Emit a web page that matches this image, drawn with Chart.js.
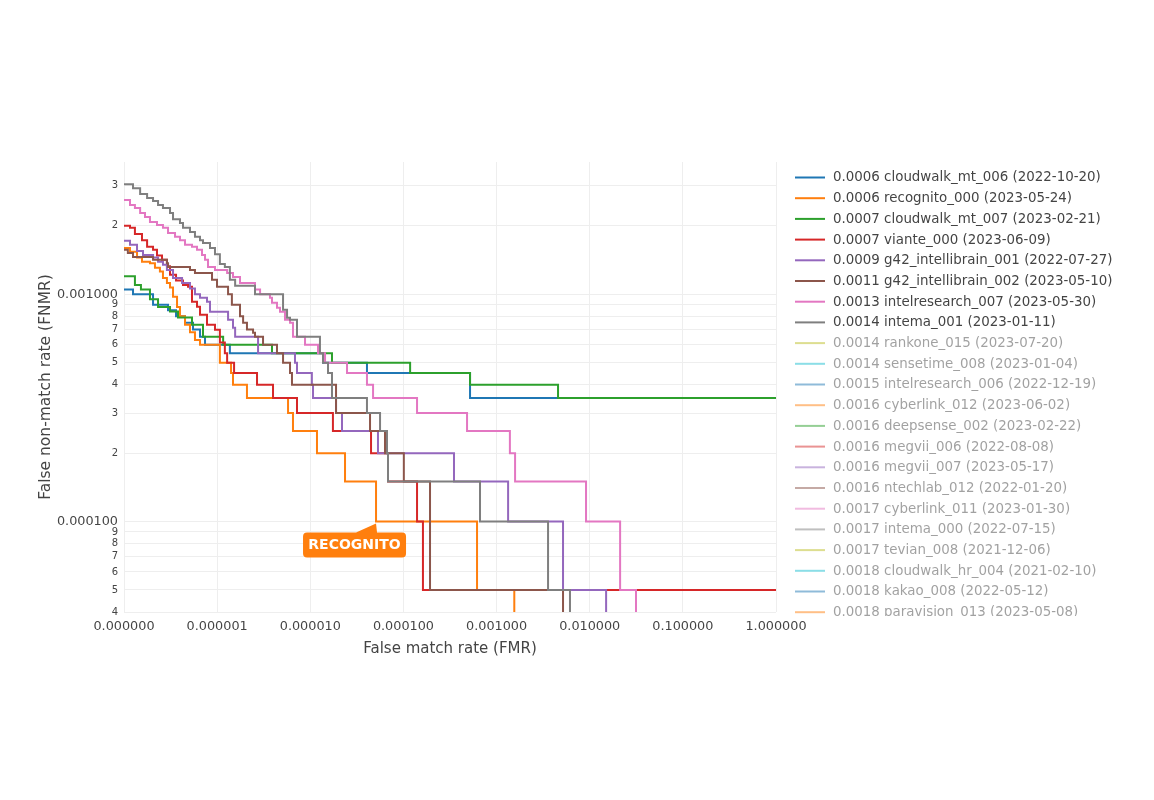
<!DOCTYPE html>
<html>
<head>
<meta charset="utf-8">
<script src="https://cdn.jsdelivr.net/npm/chart.js@4"></script>
<style>
  html, body { margin: 0; padding: 0; background: #fff; }
  canvas { display: block; }
</style>
</head>
<body>
<canvas id="c" width="1154" height="800"></canvas>
<script>
// ---------- DATA ----------
const FLOOR = 1e-6; // FNMR reaches zero: drawn below the log-axis floor

const cloudwalk006_fmr  = [1e-7, 1.25e-7, 2.05e-7, 2.97e-7, 3.62e-7, 4.52e-7, 5.51e-7, 6.55e-7, 7.41e-7, 1.37e-6, 1.37e-5, 4.06e-5, 5.19e-4, 1];
const cloudwalk006_fnmr = [1.05e-3, 1.0e-3, 9e-4, 8.5e-4, 8e-4, 7.5e-4, 7e-4, 6.5e-4, 6e-4, 5.5e-4, 5e-4, 4.5e-4, 3.5e-4, 3.5e-4];

const recognito_fmr  = [1e-7, 1.16e-7, 1.38e-7, 1.56e-7, 1.90e-7, 2.15e-7, 2.43e-7, 2.62e-7, 2.89e-7, 3.12e-7, 3.36e-7, 3.71e-7, 3.99e-7, 4.52e-7, 5.11e-7, 5.78e-7, 6.55e-7, 1.07e-6, 1.41e-6, 1.48e-6, 2.09e-6, 5.77e-6, 6.52e-6, 1.18e-5, 2.36e-5, 5.08e-5, 6.17e-4, 1.55e-3];
const recognito_fnmr = [1.6e-3, 1.54e-3, 1.45e-3, 1.39e-3, 1.37e-3, 1.31e-3, 1.26e-3, 1.18e-3, 1.12e-3, 1.07e-3, 9.75e-4, 8.8e-4, 8e-4, 7.35e-4, 6.8e-4, 6.3e-4, 6e-4, 5e-4, 4.5e-4, 4e-4, 3.5e-4, 3e-4, 2.5e-4, 2e-4, 1.5e-4, 1e-4, 5e-5, FLOOR];

const cloudwalk007_fmr  = [1e-7, 1.31e-7, 1.52e-7, 1.90e-7, 2.32e-7, 3.12e-7, 3.80e-7, 5.37e-7, 7.05e-7, 1.16e-6, 3.88e-6, 1.71e-5, 1.18e-4, 5.19e-4, 4.57e-3, 1];
const cloudwalk007_fnmr = [1.2e-3, 1.1e-3, 1.05e-3, 9.5e-4, 8.8e-4, 8.4e-4, 7.9e-4, 7.35e-4, 6.5e-4, 6e-4, 5.5e-4, 5e-4, 4.5e-4, 4e-4, 3.5e-4, 3.5e-4];

const viante_fmr  = [1e-7, 1.16e-7, 1.31e-7, 1.56e-7, 1.77e-7, 2.05e-7, 2.26e-7, 2.56e-7, 2.89e-7, 3.12e-7, 3.62e-7, 4.30e-7, 4.87e-7, 5.37e-7, 6.08e-7, 6.55e-7, 7.78e-7, 9.48e-7, 1.07e-6, 1.21e-6, 1.28e-6, 1.52e-6, 2.68e-6, 3.98e-6, 7.20e-6, 1.75e-5, 4.49e-5, 6.83e-5, 1.40e-4, 1.62e-4, 1];
const viante_fnmr = [2.0e-3, 1.96e-3, 1.84e-3, 1.73e-3, 1.62e-3, 1.57e-3, 1.48e-3, 1.42e-3, 1.33e-3, 1.22e-3, 1.15e-3, 1.10e-3, 1.08e-3, 9.27e-4, 8.81e-4, 8.13e-4, 7.35e-4, 6.99e-4, 6.13e-4, 5.5e-4, 5e-4, 4.5e-4, 4e-4, 3.5e-4, 3e-4, 2.5e-4, 2e-4, 1.5e-4, 1e-4, 5e-5, 5e-5];

const g42_001_fmr  = [1e-7, 1.16e-7, 1.38e-7, 1.60e-7, 2.05e-7, 2.32e-7, 2.62e-7, 2.89e-7, 3.36e-7, 4.20e-7, 5.11e-7, 5.78e-7, 6.55e-7, 7.78e-7, 8.38e-7, 1.31e-6, 1.48e-6, 1.56e-6, 2.75e-6, 6.85e-6, 7.20e-6, 1.04e-5, 1.07e-5, 1.89e-5, 2.19e-5, 5.33e-5, 3.49e-4, 1.33e-3, 5.17e-3, 1.50e-2];
const g42_001_fnmr = [1.72e-3, 1.65e-3, 1.55e-3, 1.49e-3, 1.45e-3, 1.39e-3, 1.35e-3, 1.28e-3, 1.18e-3, 1.12e-3, 1.06e-3, 1.0e-3, 9.65e-4, 9.27e-4, 8.38e-4, 7.73e-4, 7.13e-4, 6.5e-4, 5.5e-4, 5e-4, 4.5e-4, 4e-4, 3.5e-4, 3e-4, 2.5e-4, 2e-4, 1.5e-4, 1e-4, 5e-5, FLOOR];

const g42_002_fmr  = [1e-7, 1.10e-7, 1.25e-7, 2.05e-7, 2.89e-7, 2.97e-7, 5.11e-7, 5.78e-7, 8.81e-7, 9.97e-7, 1.31e-6, 1.44e-6, 1.76e-6, 1.90e-6, 2.09e-6, 2.43e-6, 2.55e-6, 3.11e-6, 4.39e-6, 5.10e-6, 6.06e-6, 6.36e-6, 1.89e-5, 4.38e-5, 6.34e-5, 1.01e-4, 1.93e-4, 5.17e-3];
const g42_002_fnmr = [1.57e-3, 1.52e-3, 1.46e-3, 1.42e-3, 1.37e-3, 1.32e-3, 1.28e-3, 1.24e-3, 1.16e-3, 1.08e-3, 1.0e-3, 9e-4, 8e-4, 7.5e-4, 7e-4, 6.78e-4, 6.5e-4, 6e-4, 5.5e-4, 5e-4, 4.5e-4, 4e-4, 3e-4, 2.5e-4, 2e-4, 1.5e-4, 5e-5, FLOOR];

const intelresearch007_fmr  = [1e-7, 1.16e-7, 1.31e-7, 1.49e-7, 1.68e-7, 1.90e-7, 2.26e-7, 2.62e-7, 2.97e-7, 3.53e-7, 3.99e-7, 4.52e-7, 5.37e-7, 6.08e-7, 6.88e-7, 7.41e-7, 7.98e-7, 9.48e-7, 1.28e-6, 1.48e-6, 1.76e-6, 2.55e-6, 2.89e-6, 3.69e-6, 3.88e-6, 4.39e-6, 4.73e-6, 5.35e-6, 6.06e-6, 6.52e-6, 8.78e-6, 1.21e-5, 1.44e-5, 2.48e-5, 4.06e-5, 4.72e-5, 1.40e-4, 4.82e-4, 1.39e-3, 1.58e-3, 9.13e-3, 2.12e-2, 3.14e-2];
const intelresearch007_fnmr = [2.60e-3, 2.47e-3, 2.40e-3, 2.28e-3, 2.19e-3, 2.08e-3, 2.02e-3, 1.96e-3, 1.86e-3, 1.79e-3, 1.73e-3, 1.65e-3, 1.62e-3, 1.57e-3, 1.49e-3, 1.42e-3, 1.32e-3, 1.28e-3, 1.24e-3, 1.19e-3, 1.12e-3, 1.05e-3, 1.0e-3, 9.65e-4, 9.18e-4, 8.73e-4, 8.38e-4, 7.73e-4, 7.5e-4, 6.5e-4, 6e-4, 5.5e-4, 5e-4, 4.5e-4, 4e-4, 3.5e-4, 3e-4, 2.5e-4, 2e-4, 1.5e-4, 1e-4, 5e-5, FLOOR];

const intema001_fmr  = [1e-7, 1.25e-7, 1.49e-7, 1.77e-7, 2.05e-7, 2.32e-7, 2.62e-7, 3.12e-7, 3.36e-7, 3.99e-7, 4.30e-7, 5.11e-7, 5.78e-7, 6.55e-7, 7.05e-7, 8.38e-7, 9.48e-7, 1.07e-6, 1.21e-6, 1.37e-6, 1.56e-6, 2.55e-6, 5.10e-6, 5.63e-6, 6.06e-6, 7.20e-6, 1.27e-5, 1.37e-5, 1.55e-5, 1.71e-5, 4.06e-5, 5.61e-5, 6.66e-5, 6.83e-5, 6.64e-4, 3.57e-3, 6.14e-3];
const intema001_fnmr = [3.05e-3, 2.93e-3, 2.76e-3, 2.65e-3, 2.57e-3, 2.47e-3, 2.40e-3, 2.28e-3, 2.14e-3, 2.06e-3, 1.96e-3, 1.88e-3, 1.79e-3, 1.73e-3, 1.68e-3, 1.60e-3, 1.50e-3, 1.36e-3, 1.32e-3, 1.16e-3, 1.09e-3, 1.0e-3, 8.55e-4, 7.89e-4, 7.73e-4, 6.5e-4, 5.5e-4, 5e-4, 4.5e-4, 3.5e-4, 3e-4, 2.5e-4, 2e-4, 1.5e-4, 1e-4, 5e-5, FLOOR];

// legend entries (first 8 drawn, the rest legend-only)
const seriesLabels = [
  "0.0006 cloudwalk_mt_006 (2022-10-20)",
  "0.0006 recognito_000 (2023-05-24)",
  "0.0007 cloudwalk_mt_007 (2023-02-21)",
  "0.0007 viante_000 (2023-06-09)",
  "0.0009 g42_intellibrain_001 (2022-07-27)",
  "0.0011 g42_intellibrain_002 (2023-05-10)",
  "0.0013 intelresearch_007 (2023-05-30)",
  "0.0014 intema_001 (2023-01-11)",
  "0.0014 rankone_015 (2023-07-20)",
  "0.0014 sensetime_008 (2023-01-04)",
  "0.0015 intelresearch_006 (2022-12-19)",
  "0.0016 cyberlink_012 (2023-06-02)",
  "0.0016 deepsense_002 (2023-02-22)",
  "0.0016 megvii_006 (2022-08-08)",
  "0.0016 megvii_007 (2023-05-17)",
  "0.0016 ntechlab_012 (2022-01-20)",
  "0.0017 cyberlink_011 (2023-01-30)",
  "0.0017 intema_000 (2022-07-15)",
  "0.0017 tevian_008 (2021-12-06)",
  "0.0018 cloudwalk_hr_004 (2021-02-10)",
  "0.0018 kakao_008 (2022-05-12)",
  "0.0018 paravision_013 (2023-05-08)"
];
const seriesFmr  = [cloudwalk006_fmr, recognito_fmr, cloudwalk007_fmr, viante_fmr, g42_001_fmr, g42_002_fmr, intelresearch007_fmr, intema001_fmr];
const seriesFnmr = [cloudwalk006_fnmr, recognito_fnmr, cloudwalk007_fnmr, viante_fnmr, g42_001_fnmr, g42_002_fnmr, intelresearch007_fnmr, intema001_fnmr];

const palette = ["#1f77b4", "#ff7f0e", "#2ca02c", "#d62728", "#9467bd", "#8c564b", "#e377c2", "#7f7f7f", "#bcbd22", "#17becf"];

const xTickValues = [1e-7, 1e-6, 1e-5, 1e-4, 1e-3, 1e-2, 1e-1, 1];
const yTickValues = [4e-5, 5e-5, 6e-5, 7e-5, 8e-5, 9e-5, 1e-4, 2e-4, 3e-4, 4e-4, 5e-4, 6e-4, 7e-4, 8e-4, 9e-4, 1e-3, 2e-3, 3e-3];
const yMajorTicks = [1e-4, 1e-3];

const annotationText = "RECOGNITO";
const annotationFmr = 5.08e-5;
const annotationFnmr = 1e-4;

// ---------- CHART ----------
const FONT = '"DejaVu Sans", Verdana, sans-serif';
const TEXT = '#444';

const datasets = seriesLabels.map((label, i) => {
  const color = palette[i % palette.length];
  const drawn = i < seriesFmr.length;
  return {
    label,
    data: drawn ? seriesFmr[i].map((x, k) => ({ x, y: seriesFnmr[i][k] })) : [],
    borderColor: color,
    backgroundColor: color,
    borderWidth: 2,
    pointRadius: 0,
    fill: false,
    stepped: 'before',
    hidden: !drawn,
    order: -i
  };
});

const isMajorY = v => yMajorTicks.some(m => Math.abs(v / m - 1) < 1e-6);

const legendPlugin = {
  id: 'plotlyLegend',
  afterDraw(chart) {
    const ctx = chart.ctx;
    ctx.save();
    ctx.beginPath();
    ctx.rect(780, 150, 374, 466);
    ctx.clip();
    ctx.font = '13.4px ' + FONT;
    ctx.textBaseline = 'middle';
    ctx.textAlign = 'left';
    chart.data.datasets.forEach((ds, i) => {
      const y = 177.5 + i * 20.7;
      ctx.globalAlpha = ds.hidden ? 0.5 : 1;
      ctx.strokeStyle = ds.borderColor;
      ctx.lineWidth = 2;
      ctx.beginPath();
      ctx.moveTo(795, y);
      ctx.lineTo(825, y);
      ctx.stroke();
      ctx.fillStyle = TEXT;
      ctx.fillText(ds.label, 833, y + 0.5);
    });
    ctx.restore();
  }
};

const annotationPlugin = {
  id: 'calloutLabel',
  afterDatasetsDraw(chart) {
    const ctx = chart.ctx;
    const px = chart.scales.x.getPixelForValue(annotationFmr);
    const py = chart.scales.y.getPixelForValue(annotationFnmr);
    const tipY = py + 2;
    const left = px - 73, top = py + 11, w = 103, h = 25, r = 4;
    ctx.save();
    ctx.fillStyle = '#ff7f0e';
    ctx.beginPath();
    ctx.moveTo(left + r, top);
    ctx.lineTo(px - 20, top);
    ctx.lineTo(px, tipY);
    ctx.lineTo(px + 1, top);
    ctx.lineTo(left + w - r, top);
    ctx.quadraticCurveTo(left + w, top, left + w, top + r);
    ctx.lineTo(left + w, top + h - r);
    ctx.quadraticCurveTo(left + w, top + h, left + w - r, top + h);
    ctx.lineTo(left + r, top + h);
    ctx.quadraticCurveTo(left, top + h, left, top + h - r);
    ctx.lineTo(left, top + r);
    ctx.quadraticCurveTo(left, top, left + r, top);
    ctx.closePath();
    ctx.fill();
    ctx.fillStyle = '#fff';
    ctx.font = 'bold 14px ' + FONT;
    ctx.textAlign = 'center';
    ctx.textBaseline = 'middle';
    ctx.fillText(annotationText, left + w / 2, top + h / 2 + 0.5);
    ctx.restore();
  }
};

new Chart(document.getElementById('c'), {
  type: 'line',
  data: { datasets },
  plugins: [legendPlugin, annotationPlugin],
  options: {
    responsive: false,
    devicePixelRatio: 1,
    animation: false,
    events: [],
    layout: { padding: { left: 0, right: 378, top: 162, bottom: 130 } },
    plugins: {
      legend: { display: false },
      tooltip: { enabled: false },
      title: { display: false }
    },
    scales: {
      x: {
        type: 'logarithmic',
        min: 1e-7,
        max: 1,
        afterFit: s => { s.height = 58; },
        afterBuildTicks: s => { s.ticks = xTickValues.map(v => ({ value: v })); },
        grid: { color: '#eeeeee', lineWidth: 1, drawTicks: false },
        border: { display: false },
        ticks: {
          autoSkip: false, maxRotation: 0, minRotation: 0, padding: 7,
          color: TEXT, font: { family: FONT, size: 12.8 },
          callback: v => Number(v).toFixed(6)
        },
        title: {
          display: true, text: 'False match rate (FMR)', color: TEXT,
          font: { family: FONT, size: 15 }, padding: { top: 0, bottom: 12 }
        }
      },
      y: {
        type: 'logarithmic',
        min: 4e-5,
        max: 3.82e-3,
        afterFit: s => { s.width = 124; },
        afterBuildTicks: s => { s.ticks = yTickValues.map(v => ({ value: v })); },
        grid: { color: '#eeeeee', lineWidth: 1, drawTicks: false },
        border: { display: false },
        ticks: {
          autoSkip: false, padding: 6, color: TEXT,
          font: ctx => (ctx.tick && isMajorY(ctx.tick.value)) ? { family: FONT, size: 12.8 } : { family: FONT, size: 10 },
          callback: v => isMajorY(v) ? Number(v).toFixed(6) : String(Math.round(v / Math.pow(10, Math.floor(Math.log10(v) + 1e-9))))
        },
        title: {
          display: true, text: 'False non-match rate (FNMR)', color: TEXT,
          font: { family: FONT, size: 15.5 }, padding: { top: 37, bottom: 0 }
        }
      }
    }
  }
});
</script>
</body>
</html>
